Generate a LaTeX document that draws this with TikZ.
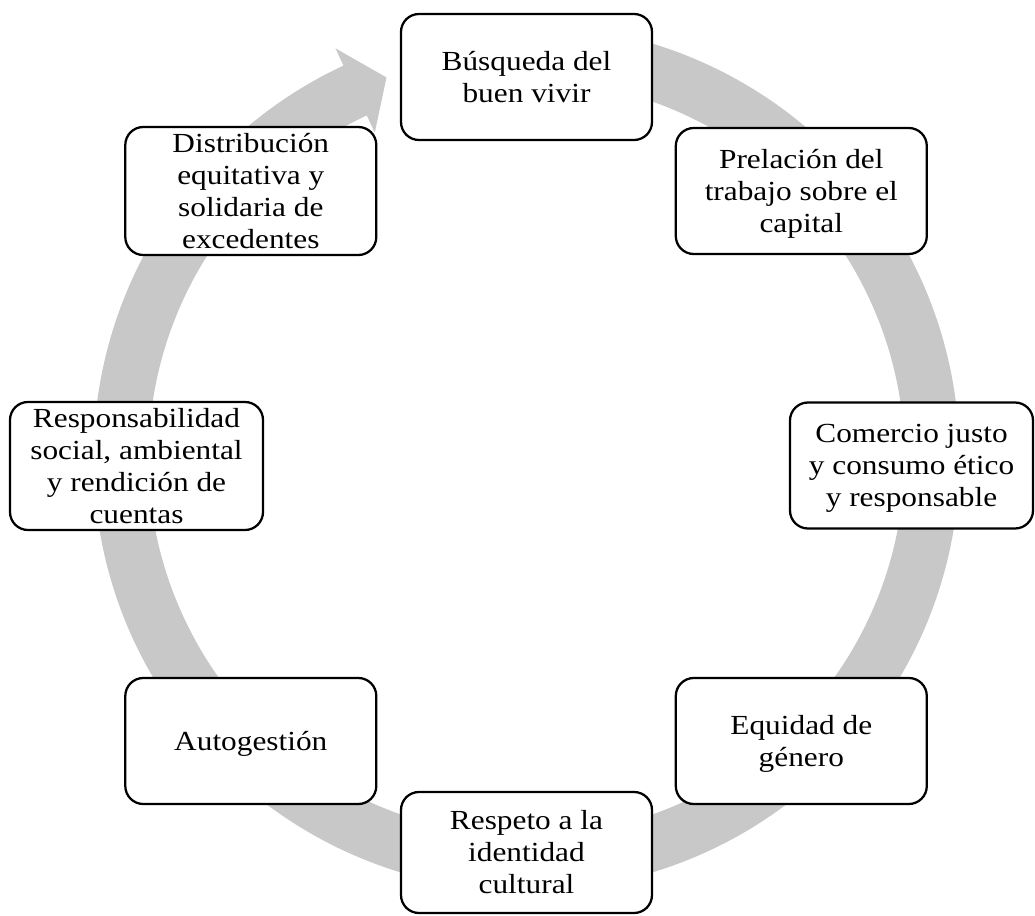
\documentclass[tikz,border=0pt]{standalone}
\usepackage{fontspec}
\setmainfont{Liberation Serif}[FakeStretch=1.135]
\definecolor{ringgray}{RGB}{200,200,200}
\newcommand{\ls}{\rule[-4.9pt]{0pt}{24pt}}
\begin{document}
\begin{tikzpicture}[x=0.75pt,y=0.75pt,
  box/.style={draw=black, line width=1.7pt, rounded corners=13.5pt, fill=white,
    inner sep=0pt, align=center, minimum width=188.25pt, minimum height=94.5pt,
    font=\fontsize{20.7pt}{24pt}\selectfont},
  ring/.style={fill=ringgray}]
\useasboundingbox (0,0) rectangle (1035,915);
% circular arrow
\begin{scope}[shift={(526.5,457)}]
\fill[ring] (95:433) arc[start angle=95, end angle=-245, radius=324.75pt]
  -- (-245:452) -- (-249.8:405.5) -- (-245:359) -- (-245:378)
  arc[start angle=-245, end angle=95, radius=283.5pt] -- cycle;
\end{scope}
% nodes
\node[box] (b1) at (526.5,838) {\ls B\'usqueda del\\\ls buen vivir};
\node[box] (b2) at (801.3,724) {\ls Prelaci\'on del\\\ls trabajo sobre el\\\ls capital};
\node[box, minimum width=182.25pt] (b3) at (911.5,449.5) {\ls Comercio justo\\\ls y consumo \'etico\\\ls y responsable};
\node[box] (b4) at (801.3,174) {\ls Equidad de\\\ls g\'enero};
\node[box, minimum height=90.75pt] (b5) at (526.5,62.5) {\ls Respeto a la\\\ls identidad\\\ls cultural};
\node[box] (b6) at (250.8,174) {\ls Autogesti\'on};
\node[box, minimum width=189.75pt] (b7) at (136.5,449) {\ls Responsabilidad\\\ls social, ambiental\\\ls y rendici\'on de\\\ls cuentas};
\node[box] (b8) at (250.8,724) {\ls Distribuci\'on\\\ls equitativa y\\\ls solidaria de\\\ls excedentes};
\end{tikzpicture}
\end{document}
